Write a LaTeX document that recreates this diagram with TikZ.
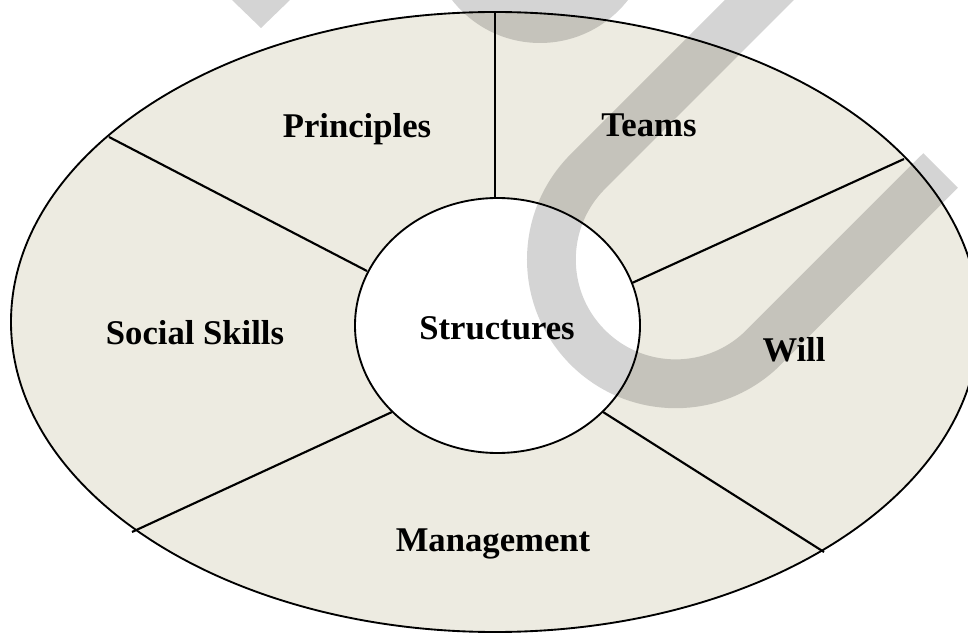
\documentclass[tikz,border=0pt]{standalone}
\usepackage{fontspec}
\setmainfont{Liberation Serif}
\usetikzlibrary{shapes.geometric}
\definecolor{beige}{RGB}{237,235,225}
\begin{document}
\begin{tikzpicture}[x=0.75pt,y=0.75pt,
  lab/.style={font=\bfseries\fontsize{26}{30}\selectfont, anchor=base, inner sep=0pt},
  spoke/.style={line width=1.6pt},
  rim/.style={line width=1.4pt},
  wm/.style={fill=black, fill opacity=0.17, draw=none},
  wmline/.style={draw=black, draw opacity=0.17, line width=36.6pt}]
\useasboundingbox (0,0) rectangle (968,633);
\begin{scope}
\clip (0,0) rectangle (968,633);
% outer ring
\draw[rim, fill=beige] (495,311) ellipse [x radius=484, y radius=310];
% core
\node[draw, rim, ellipse, fill=white, minimum width=213.75pt, minimum height=191.25pt, inner sep=0pt] (core) at (497.5,307.5) {};
% spoke end points
\coordinate (o1) at (495,621);   \coordinate (i1) at (495,435);
\coordinate (o2) at (109,496);   \coordinate (i2) at (367,362);
\coordinate (o3) at (132,101);   \coordinate (i3) at (392,221);
\coordinate (o4) at (824,81);    \coordinate (i4) at (603,221);
\coordinate (o5) at (904,474);   \coordinate (i5) at (632,350);
\foreach \k in {1,...,5} {\draw[spoke] (o\k) -- (i\k);}
% labels
\node[lab] (lprin) at (357,495) {Principles};
\node[lab] (lteam) at (649,496) {Teams};
\node[lab] (lsoc) at (195,288) {Social Skills};
\node[lab] (lstr) at (497,293) {Structures};
\node[lab] (lwill) at (794,272) {Will};
\node[lab] (lman) at (493,82) {Management};
% watermark
\fill[wm] (232,633) -- (261,605) -- (290,633) -- cycle;
\fill[wm] (540,701.5) circle [radius=111.5];
\draw[wmline] (837.8,711.4) -- (587.8,461.4) arc[start angle=135, end angle=315, radius=124.3] -- (940.5,462.5);
\end{scope}
\end{tikzpicture}
\end{document}
